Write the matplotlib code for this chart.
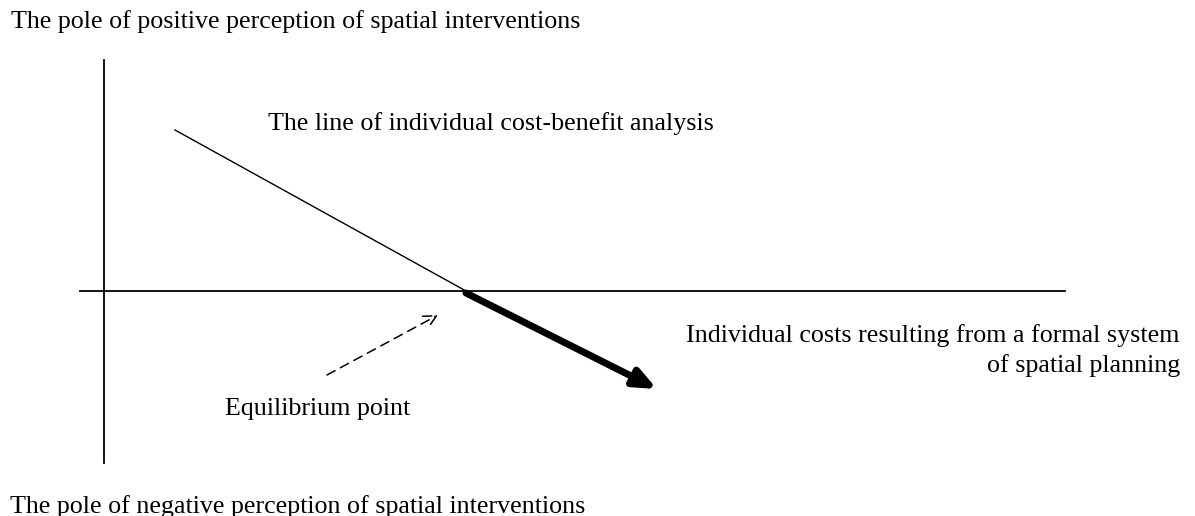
import matplotlib.pyplot as plt

plt.rcParams['font.family'] = ['Liberation Serif', 'DejaVu Serif']

# diagram geometry (pixel coords of the original figure, y downwards)
v_axis_x = [104, 104]
v_axis_y = [60, 463]
h_axis_x = [80, 1065]
h_axis_y = [291, 291]
cb_line_x = [175, 466]
cb_line_y = [130, 291]
cost_arrow_start = (466, 293)
cost_arrow_end = (657, 389)
eq_arrow_start = (327, 375)
eq_arrow_end = (438, 315)

fig = plt.figure(figsize=(11.95, 5.16), dpi=100)
ax = fig.add_axes([0, 0, 1, 1])
ax.set_xlim(0, 1195)
ax.set_ylim(516, 0)
ax.axis('off')

ax.plot(v_axis_x, v_axis_y, color='black', lw=1.3)
ax.plot(h_axis_x, h_axis_y, color='black', lw=1.3)
ax.plot(cb_line_x, cb_line_y, color='black', lw=1.0)

ax.annotate('', xy=cost_arrow_end, xytext=cost_arrow_start,
            arrowprops=dict(arrowstyle='-|>,head_length=1.3,head_width=0.55',
                            color='black', lw=5, shrinkA=0, shrinkB=0))
ax.annotate('', xy=eq_arrow_end, xytext=eq_arrow_start,
            arrowprops=dict(arrowstyle='->,head_length=0.9,head_width=0.45',
                            color='black', lw=1.1, linestyle=(0, (6, 4)),
                            shrinkA=0, shrinkB=0))

fs = 18.7
ax.text(11, 28, 'The pole of positive perception of spatial interventions',
        fontsize=fs, va='baseline', ha='left')
ax.text(10, 513, 'The pole of negative perception of spatial interventions',
        fontsize=fs, va='baseline', ha='left')
ax.text(268, 130, 'The line of individual cost-benefit analysis',
        fontsize=fs, va='baseline', ha='left')
ax.text(1180, 342, 'Individual costs resulting from a formal system',
        fontsize=fs, va='baseline', ha='right')
ax.text(1180, 372, 'of spatial planning',
        fontsize=fs, va='baseline', ha='right')
ax.text(225, 415, 'Equilibrium point', fontsize=fs, va='baseline', ha='left')

fig.savefig('out.png', dpi=100)
